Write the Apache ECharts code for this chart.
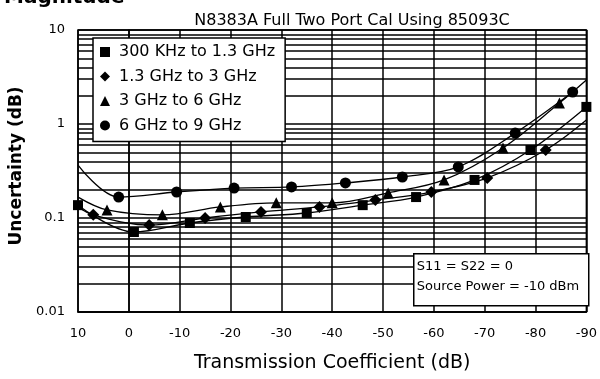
<!DOCTYPE html>
<html><head><meta charset="utf-8">
<script src="https://cdn.jsdelivr.net/npm/echarts@6/dist/echarts.min.js"></script>
<style>html,body{margin:0;padding:0;background:#fff}#c{width:600px;height:379px}</style>
</head><body><div id="c"></div>
<script>
// ---- text ----
const sectionLabel = 'Magnitude';
const titleText = 'N8383A Full Two Port Cal Using 85093C';
const xAxisName = 'Transmission Coefficient (dB)';
const yAxisName = 'Uncertainty (dB)';
const seriesNames = ['300 KHz to 1.3 GHz', '1.3 GHz to 3 GHz', '3 GHz to 6 GHz', '6 GHz to 9 GHz'];
const notes = ['S11 = S22 = 0', 'Source Power = -10 dBm'];

// ---- axes ----
const xMin = -90, xMax = 10, xStep = 10;
const yMin = 0.01, yMax = 10;
const minorMultipliers = [2, 3, 4, 5, 6, 7, 8, 9];
const decades = [0.01, 0.1, 1];

// ---- data (transmission coefficient dB, uncertainty dB) ----
const x300k = [10, -1, -12, -23, -35, -46, -56.5, -68, -79, -90];
const y300k = [0.137, 0.071, 0.0885, 0.1025, 0.113, 0.137, 0.167, 0.254, 0.529, 1.52];

const x1g3 = [10, 7, -4, -15, -26, -37.5, -48.5, -59.5, -70.5, -82, -90];
const y1g3 = [0.131, 0.108, 0.084, 0.100, 0.116, 0.131, 0.155, 0.189, 0.267, 0.529, 1.10];

const x3g = [10, 4.3, -6.6, -18, -29, -40, -51, -62, -73.6, -84.7, -90];
const y3g = [0.167, 0.122, 0.108, 0.131, 0.145, 0.145, 0.185, 0.254, 0.556, 1.67, 2.94];

const x6g = [10, 2, -9.4, -20.7, -32, -42.6, -53.8, -64.8, -76, -87.3];
const y6g = [0.366, 0.167, 0.189, 0.208, 0.214, 0.236, 0.273, 0.349, 0.80, 2.19];

// ---- build ----
const FONT = 'DejaVu Sans';
const minorGrid = [];
decades.forEach(d => minorMultipliers.forEach(m => minorGrid.push(+(d * m).toPrecision(3))));

function mk(name, xs, ys, sym, size, hideFirst, hideLast) {
  const n = xs.length;
  return {
    name, type: 'line', z: 3,
    data: xs.map((x, i) => [x, ys[i]]),
    smooth: 0.35,
    symbol: (v, p) => ((hideFirst && p.dataIndex === 0) || (hideLast && p.dataIndex === n - 1)) ? 'none' : sym,
    symbolSize: size,
    lineStyle: { color: '#000', width: 1.3 },
    itemStyle: { color: '#000' },
    emphasis: { disabled: true },
    animation: false
  };
}

const series = [
  {
    type: 'line', data: [], z: 1, silent: true, animation: false,
    markLine: {
      silent: true, animation: false, symbol: ['none', 'none'],
      label: { show: false },
      lineStyle: { color: '#000', width: 1.5, type: 'solid' },
      emphasis: { disabled: true },
      data: minorGrid.map(v => ({ yAxis: v }))
    }
  },
  mk(seriesNames[0], x300k, y300k, 'rect', 10, false, false),
  mk(seriesNames[1], x1g3, y1g3, 'diamond', 12, true, true),
  mk(seriesNames[2], x3g, y3g, 'triangle', 11, true, true),
  mk(seriesNames[3], x6g, y6g, 'circle', 11, true, false)
];

const chart = echarts.init(document.getElementById('c'), null, { renderer: 'canvas' });
chart.setOption({
  animation: false,
  backgroundColor: '#fff',
  textStyle: { fontFamily: FONT, color: '#000' },
  title: {
    text: titleText, left: 347, top: 8, textAlign: 'center',
    textStyle: { fontFamily: FONT, fontSize: 16, fontWeight: 'normal', color: '#000' }
  },
  grid: { left: 78, right: 12, top: 30, bottom: 67, show: true, borderColor: '#000', borderWidth: 1.5, backgroundColor: 'transparent' },
  legend: {
    orient: 'vertical', left: 93, top: 38, z: 100, zlevel: 1,
    padding: [6, 10, 8, 7], itemGap: 8.5, itemWidth: 10, itemHeight: 10,
    backgroundColor: '#fff', borderColor: '#000', borderWidth: 1.5,
    textStyle: { fontFamily: FONT, fontSize: 16, color: '#000', padding: [0, 0, 0, 4] },
    itemStyle: { color: '#000' },
    selectedMode: false,
    data: [
      { name: seriesNames[0], icon: 'rect' },
      { name: seriesNames[1], icon: 'diamond' },
      { name: seriesNames[2], icon: 'triangle' },
      { name: seriesNames[3], icon: 'circle' }
    ]
  },
  xAxis: {
    type: 'value', min: xMin, max: xMax, interval: xStep, inverse: true,
    name: xAxisName, nameLocation: 'middle', nameGap: 42,
    nameTextStyle: { fontFamily: FONT, fontSize: 19, color: '#000' },
    axisLine: { show: true, lineStyle: { color: '#000', width: 1.5 } },
    axisTick: { show: false },
    axisLabel: { fontFamily: FONT, fontSize: 13, color: '#000', margin: 15 },
    splitLine: { show: true, lineStyle: { color: '#000', width: 1.5 } }
  },
  yAxis: {
    type: 'log', logBase: 10, min: yMin, max: yMax,
    name: yAxisName, nameLocation: 'middle', nameGap: 50, nameRotate: 90,
    nameTextStyle: { fontFamily: FONT, fontSize: 17, fontWeight: 'bold', color: '#000', padding: [0, 0, 0, 10] },
    axisLine: { show: true, lineStyle: { color: '#000', width: 1.5 } },
    axisTick: { show: false },
    axisLabel: { fontFamily: FONT, fontSize: 13, color: '#000', margin: 13 },
    splitLine: { show: true, lineStyle: { color: '#000', width: 1.5 } }
  },
  graphic: [
    {
      type: 'text', left: 4, top: -12, z: 100,
      style: { text: sectionLabel, font: 'bold 20px "DejaVu Sans"', fill: '#000' }
    },
    {
      type: 'group', left: 413, top: 253, z: 100,
      children: [
        { type: 'rect', z: 100, shape: { x: 0, y: 0, width: 175, height: 52 }, style: { fill: '#fff', stroke: '#000', lineWidth: 1.5 } },
        { type: 'text', z: 101, x: 3, y: 13, style: { text: notes[0], font: '13px "DejaVu Sans"', fill: '#000', verticalAlign: 'middle' } },
        { type: 'text', z: 101, x: 3, y: 33, style: { text: notes[1], font: '13px "DejaVu Sans"', fill: '#000', verticalAlign: 'middle' } }
      ]
    }
  ],
  series
});
</script>
</body></html>
